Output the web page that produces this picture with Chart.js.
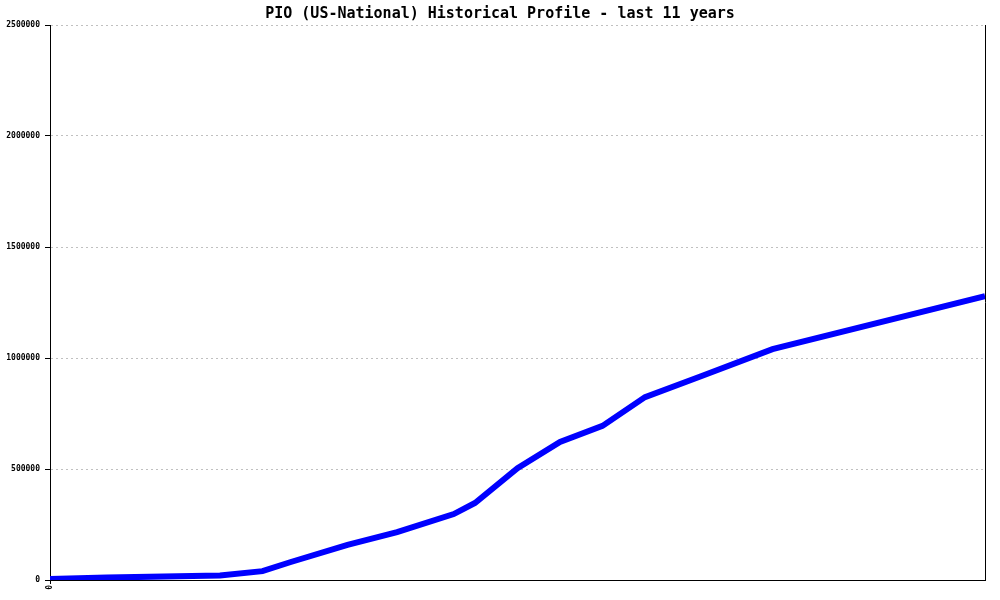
<!DOCTYPE html>
<html>
<head>
<meta charset="utf-8">
<script src="https://cdn.jsdelivr.net/npm/chart.js@4/dist/chart.umd.min.js"></script>
<style>
  html, body { margin: 0; padding: 0; background: #fff; }
  #wrap { width: 1000px; height: 600px; }
</style>
</head>
<body>
<div id="wrap"><canvas id="chart" width="1000" height="600"></canvas></div>
<script>
// months since start of the 11-year window, and advertised prefix counts
const months   = [0, 8, 24, 30, 34, 42, 49, 57, 60, 66, 72, 78, 84, 92, 102, 132];
const prefixes = [4500, 11000, 20000, 40000, 81000, 158000, 216000, 297000, 347000,
                  504000, 622000, 694000, 824000, 919000, 1040000, 1279000];
const yTicks   = [0, 500000, 1000000, 1500000, 2000000, 2500000];
const xTicks   = [0];

const MONO = "'DejaVu Sans Mono', 'Liberation Mono', monospace";

// right-hand frame line
const rightBorder = {
    id: 'rightBorder',
    afterDraw(chart) {
        const { ctx, chartArea } = chart;
        ctx.save();
        ctx.strokeStyle = '#000';
        ctx.lineWidth = 1;
        ctx.beginPath();
        ctx.moveTo(Math.round(chartArea.right) + 0.5, chartArea.top);
        ctx.lineTo(Math.round(chartArea.right) + 0.5, chartArea.bottom);
        ctx.stroke();
        ctx.restore();
    }
};

new Chart(document.getElementById('chart'), {
    type: 'line',
    data: {
        datasets: [{
            data: months.map((m, i) => ({ x: m, y: prefixes[i] })),
            borderColor: '#0000ff',
            borderWidth: 6,
            pointRadius: 0,
            tension: 0,
            fill: false
        }]
    },
    options: {
        responsive: false,
        animation: false,
        layout: { padding: 0 },
        plugins: {
            legend: { display: false },
            tooltip: { enabled: false },
            title: {
                display: true,
                text: 'PIO (US-National) Historical Profile - last 11 years',
                color: '#000',
                font: { family: MONO, size: 15, weight: 'bold' },
                padding: { top: 5, bottom: 2 }
            }
        },
        scales: {
            x: {
                type: 'linear',
                min: months[0],
                max: months[months.length - 1],
                afterBuildTicks: s => { s.ticks = xTicks.map(v => ({ value: v })); },
                afterFit: s => { s.height = 20; },
                border: { display: true, color: '#000', width: 1 },
                grid: { drawOnChartArea: false, drawTicks: true, tickLength: 4, tickColor: '#000' },
                ticks: {
                    color: '#000',
                    font: { family: MONO, size: 8, weight: 'bold' },
                    minRotation: 90,
                    maxRotation: 90,
                    padding: 1,
                    callback: v => String(v)
                }
            },
            y: {
                min: 0,
                max: 2500000,
                afterBuildTicks: s => { s.ticks = yTicks.map(v => ({ value: v })); },
                afterFit: s => { s.width = 50; },
                border: { display: true, color: '#000', width: 1, dash: [2, 3] },
                grid: {
                    color: '#c0c0c0',
                    drawTicks: true,
                    tickLength: 5,
                    tickColor: '#000'
                },
                ticks: {
                    color: '#000',
                    font: { family: MONO, size: 8, weight: 'bold' },
                    padding: 5,
                    callback: v => String(v)
                }
            },
            // empty right-hand spacer so the plot ends at x=985
            yRight: {
                position: 'right',
                display: true,
                afterFit: s => { s.width = 15; },
                border: { display: false },
                grid: { display: false },
                ticks: { display: false }
            }
        }
    },
    plugins: [rightBorder]
});
</script>
</body>
</html>
